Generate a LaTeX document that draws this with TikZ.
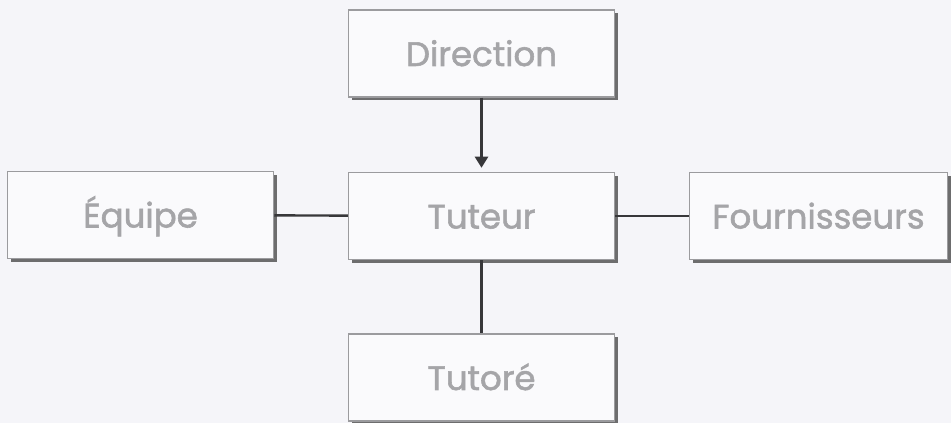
\documentclass[tikz,border=0pt]{standalone}
\usepackage{fontspec}
\setmainfont{Poppins}
\newfontfamily\rolefont[FakeBold=1.6]{Poppins}
\usepackage{xcolor}
\usetikzlibrary{shadows}
\usetikzlibrary{arrows.meta}
\definecolor{paper}{RGB}{245,245,249}
\definecolor{boxfill}{RGB}{250,250,252}
\definecolor{boxtext}{RGB}{165,165,168}
\definecolor{boxline}{RGB}{155,155,158}
\definecolor{wire}{RGB}{55,55,58}
\tikzset{
  rolebox/.style={draw=boxline, line width=1.5pt, fill=boxfill, rectangle,
    minimum width=266pt, minimum height=87pt, inner sep=0pt,
    text=boxtext, font=\rolefont\fontsize{34}{40}\selectfont,
    text height=25pt, text depth=0pt,
    drop shadow={shadow xshift=3.5pt, shadow yshift=-3.5pt, fill=black!75, opacity=0.75}},
  wireline/.style={draw=wire, line width=2.4pt}
}

\begin{document}
\begin{tikzpicture}[x=1pt,y=1pt]
\fill[paper] (0,0) rectangle (951,423);
\useasboundingbox (0,0) rectangle (951,423);
\node[rolebox] (direction) at (481.5, 369.5) {Direction};
\node[rolebox] (tuteur) at (481.5, 207) {Tuteur};
\node[rolebox] (equipe) at (140.5, 208) {Équipe};
\node[rolebox, minimum width=258pt] (fourn) at (818.5, 207) {Fournisseurs};
\node[rolebox] (tutore) at (481.5, 45.5) {Tutoré};

\draw[wireline, -{Triangle[width=13pt,length=11pt]}, shorten >=4pt] (direction) -- (tuteur);
\draw[wireline] (equipe) -- (tuteur);
\draw[wireline] (tuteur) -- (fourn);
\draw[wireline] (tuteur) -- (tutore);
\end{tikzpicture}
\end{document}
